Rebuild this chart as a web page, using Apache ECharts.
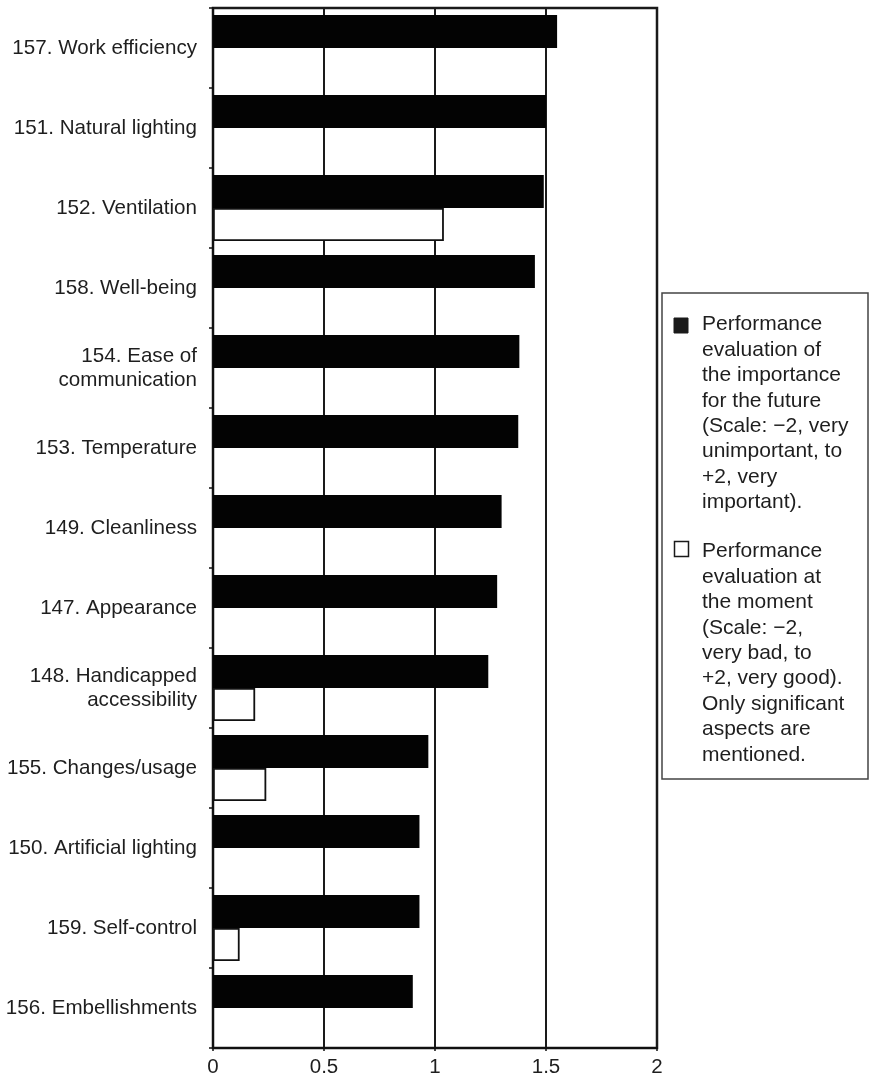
<!DOCTYPE html>
<html>
<head>
<meta charset="utf-8">
<script src="https://cdn.jsdelivr.net/npm/echarts@6/dist/echarts.min.js"></script>
<style>
  html, body { margin: 0; padding: 0; background: #fff; }
  #chart { width: 870px; height: 1080px; }
</style>
</head>
<body>
<div id="chart"></div>
<script>
const categories = [
  '157. Work efficiency',
  '151. Natural lighting',
  '152. Ventilation',
  '158. Well-being',
  '154. Ease of\ncommunication',
  '153. Temperature',
  '149. Cleanliness',
  '147. Appearance',
  '148. Handicapped\naccessibility',
  '155. Changes/usage',
  '150. Artificial lighting',
  '159. Self-control',
  '156. Embellishments'
];
const importanceFuture = [1.55, 1.50, 1.49, 1.45, 1.38, 1.375, 1.30, 1.28, 1.24, 0.97, 0.93, 0.93, 0.90];
const evaluationNow = [null, null, 1.04, null, null, null, null, null, 0.19, 0.24, null, 0.12, null];
const xTicks = [0, 0.5, 1, 1.5, 2];

const legendLines1 = ['Performance', 'evaluation of', 'the importance', 'for the future', '(Scale: \u22122, very', 'unimportant, to', '+2, very', 'important).'];
const legendLines2 = ['Performance', 'evaluation at', 'the moment', '(Scale: \u22122,', 'very bad, to', '+2, very good).', 'Only significant', 'aspects are', 'mentioned.'];

const chart = echarts.init(document.getElementById('chart'));
const font = 'Liberation Sans, Arial, Helvetica, sans-serif';

chart.setOption({
  backgroundColor: '#fff',
  animation: false,
  textStyle: { fontFamily: font },
  grid: {
    left: 213, right: 213, top: 8, bottom: 32,
    show: true, borderColor: '#1a1a1a', borderWidth: 2.5, backgroundColor: 'transparent'
  },
  xAxis: {
    type: 'value',
    min: xTicks[0], max: xTicks[xTicks.length - 1], interval: 0.5,
    axisLine: { show: true, lineStyle: { color: '#111', width: 2 } },
    axisTick: { show: true, length: 3, lineStyle: { color: '#111', width: 1.5 } },
    splitLine: { show: true, lineStyle: { color: '#1a1a1a', width: 2 } },
    axisLabel: {
      fontSize: 20.5, color: '#1e1e1e', margin: 9, fontFamily: font,
      formatter: v => String(v)
    }
  },
  yAxis: {
    type: 'category',
    inverse: true,
    data: categories,
    axisLine: { show: true, lineStyle: { color: '#111', width: 2 } },
    axisTick: { show: true, length: 4, lineStyle: { color: '#111', width: 1.5 } },
    axisLabel: { fontSize: 20.6, color: '#1e1e1e', margin: 16, lineHeight: 24, fontFamily: font, align: 'right' },
    splitLine: { show: false }
  },
  series: [
    {
      name: 'Performance evaluation of the importance for the future',
      type: 'bar',
      data: importanceFuture,
      barWidth: 33,
      barGap: '0%',
      itemStyle: { color: '#030303' }
    },
    {
      name: 'Performance evaluation at the moment',
      type: 'bar',
      data: evaluationNow,
      barWidth: 33,
      barGap: '0%',
      itemStyle: { color: '#fff', borderColor: '#111', borderWidth: 1.8 }
    }
  ],
  graphic: [
    {
      type: 'rect',
      shape: { x: 662, y: 293, width: 206, height: 486 },
      style: { fill: '#fff', stroke: '#444', lineWidth: 1.5 }
    },
    {
      type: 'rect',
      shape: { x: 674, y: 318, width: 14, height: 15 },
      style: { fill: '#1a1a1a', stroke: '#1a1a1a', lineWidth: 1 }
    },
    {
      type: 'text',
      left: 702, top: 312,
      style: {
        text: legendLines1.join('\n'),
        font: '21px ' + font,
        fill: '#1e1e1e',
        lineHeight: 25.4
      }
    },
    {
      type: 'rect',
      shape: { x: 674.5, y: 541.5, width: 14, height: 15 },
      style: { fill: '#fff', stroke: '#1a1a1a', lineWidth: 1.5 }
    },
    {
      type: 'text',
      left: 702, top: 539,
      style: {
        text: legendLines2.join('\n'),
        font: '21px ' + font,
        fill: '#1e1e1e',
        lineHeight: 25.4
      }
    }
  ]
});
</script>
</body>
</html>
